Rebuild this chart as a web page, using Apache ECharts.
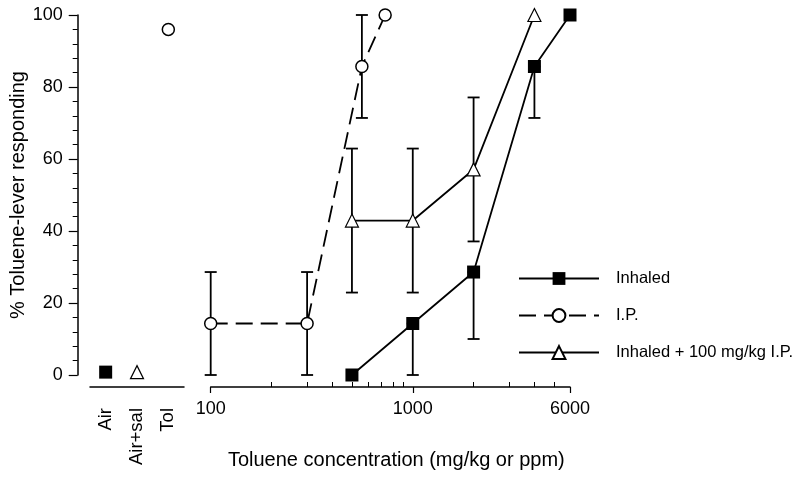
<!DOCTYPE html>
<html>
<head>
<meta charset="utf-8">
<script src="https://cdn.jsdelivr.net/npm/echarts@6/dist/echarts.min.js"></script>
<style>
  html, body { margin: 0; padding: 0; background: #fff; }
  #chart { width: 800px; height: 480px; }
</style>
</head>
<body>
<div id="chart"></div>
<script>
// control conditions (left panel)
var ctrlCats = ['Air', 'Air+sal', 'Tol'];
var ctrlValues = [0.8, 0.8, 96];

// inhaled toluene (ppm)
var inhaledDose = [500, 1000, 2000, 4000, 6000];
var inhaledPct = [0, 14.3, 28.6, 85.7, 100];
var inhaledLow = [null, 0, 10, 71.4, null];
var inhaledHigh = [null, 14.3, 28.6, 85.7, null];

// i.p. toluene (mg/kg)
var ipDose = [100, 300, 560, 730];
var ipPct = [14.3, 14.3, 85.7, 100];
var ipLow = [0, 0, 71.4, null];
var ipHigh = [28.6, 28.6, 100, null];

// inhaled + 100 mg/kg i.p.
var comboDose = [500, 1000, 2000, 4000];
var comboPct = [42.9, 42.9, 57.1, 100];
var comboLow = [22.9, 22.9, 37.1, null];
var comboHigh = [62.9, 62.9, 77.1, null];

var majorTicks = [100, 1000, 6000];
var minorTicks = [200, 300, 400, 500, 600, 700, 800, 900, 2000, 3000, 4000, 5000];

var FONT = 'Liberation Sans, Arial, Helvetica, sans-serif';

function pairs(xs, ys) {
    return xs.map(function (x, i) { return [x, ys[i]]; });
}
function errData(xs, lo, hi) {
    var out = [];
    xs.forEach(function (x, i) {
        if (lo[i] !== null && hi[i] !== null) out.push([x, lo[i], hi[i]]);
    });
    return out;
}
function renderErr(params, api) {
    var lo = api.coord([api.value(0), api.value(1)]);
    var hi = api.coord([api.value(0), api.value(2)]);
    var w = 6;
    var st = { stroke: '#000', lineWidth: 1.8 };
    return {
        type: 'group',
        children: [
            { type: 'line', shape: { x1: lo[0], y1: lo[1], x2: hi[0], y2: hi[1] }, style: st },
            { type: 'line', shape: { x1: lo[0] - w, y1: lo[1], x2: lo[0] + w, y2: lo[1] }, style: st },
            { type: 'line', shape: { x1: hi[0] - w, y1: hi[1], x2: hi[0] + w, y2: hi[1] }, style: st }
        ]
    };
}
function errSeries(data) {
    return {
        type: 'custom', xAxisIndex: 1, yAxisIndex: 1, z: 1,
        renderItem: renderErr, encode: { x: 0, y: [1, 2] }, data: data, silent: true
    };
}

var chart = echarts.init(document.getElementById('chart'));
var option = {
    animation: false,
    textStyle: { fontFamily: FONT, color: '#000' },
    grid: [
        { left: 90, width: 94, top: 15, height: 360 },
        { left: 210.7, right: 230, top: 15, height: 360 }
    ],
    legend: {
        data: ['Inhaled', 'I.P.', 'Inhaled + 100 mg/kg I.P.'],
        orient: 'vertical',
        left: 518, top: 270, padding: 0,
        itemWidth: 80, itemHeight: 16, itemGap: 20,
        textStyle: { fontFamily: FONT, fontSize: 16.5, color: '#000', padding: [0, 0, 0, 12] }
    },
    xAxis: [
        {
            gridIndex: 0, type: 'category', data: ctrlCats, position: 'bottom', offset: 12,
            axisLine: { onZero: false, lineStyle: { color: '#000', width: 1.5 } },
            axisTick: { alignWithLabel: true, length: 8, lineStyle: { color: '#000', width: 1.2 } },
            axisLabel: { rotate: 90, margin: 21, fontSize: 18.5, color: '#000', fontFamily: FONT }
        },
        {
            gridIndex: 1, type: 'log', logBase: 10, min: 100, max: 6000, position: 'bottom', offset: 12,
            axisLine: { onZero: false, lineStyle: { color: '#000', width: 1.5 } },
            axisTick: { customValues: majorTicks, length: 6, lineStyle: { color: '#000', width: 1.2 } },
            axisLabel: {
                customValues: majorTicks, margin: 13, fontSize: 18, color: '#000', fontFamily: FONT,
                formatter: function (v) { return String(Math.round(v)); }
            },
            splitLine: { show: false },
            name: 'Toluene concentration (mg/kg or ppm)',
            nameLocation: 'middle', nameGap: 63,
            nameTextStyle: { fontSize: 20, color: '#000', fontFamily: FONT, padding: [0, 0, 0, 12] }
        },
        {
            gridIndex: 1, type: 'log', logBase: 10, min: 100, max: 6000, position: 'bottom', offset: 12,
            axisLine: { show: false, onZero: false },
            axisTick: { customValues: minorTicks, inside: true, length: 5, lineStyle: { color: '#000', width: 1 } },
            axisLabel: { show: false },
            splitLine: { show: false }
        }
    ],
    yAxis: [
        {
            gridIndex: 0, type: 'value', min: 0, max: 100, interval: 20, offset: 12.3,
            axisLine: { show: true, onZero: false, lineStyle: { color: '#000', width: 1.5 } },
            axisTick: { show: true, length: 9, lineStyle: { color: '#000', width: 1.2 } },
            minorTick: { show: true, splitNumber: 5, length: 5, lineStyle: { color: '#000', width: 1 } },
            splitLine: { show: false },
            axisLabel: { margin: 15, fontSize: 18, color: '#000', fontFamily: FONT },
            name: '% Toluene-lever responding',
            nameLocation: 'middle', nameGap: 47,
            nameTextStyle: { fontSize: 20, color: '#000', fontFamily: FONT }
        },
        { gridIndex: 1, type: 'value', min: 0, max: 100, show: false, splitLine: { show: false } }
    ],
    series: [
        errSeries(errData(inhaledDose, inhaledLow, inhaledHigh)),
        errSeries(errData(ipDose, ipLow, ipHigh)),
        errSeries(errData(comboDose, comboLow, comboHigh)),
        {
            name: 'Inhaled', type: 'line', xAxisIndex: 1, yAxisIndex: 1, z: 3,
            data: pairs(inhaledDose, inhaledPct),
            symbol: 'rect', symbolSize: 13,
            itemStyle: { color: '#000' },
            lineStyle: { color: '#000', width: 1.8 }
        },
        {
            name: 'I.P.', type: 'line', xAxisIndex: 1, yAxisIndex: 1, z: 3,
            data: pairs(ipDose, ipPct),
            symbol: 'circle', symbolSize: 12,
            itemStyle: { color: '#fff', borderColor: '#000', borderWidth: 1.5 },
            lineStyle: { color: '#000', width: 1.8, type: [17, 8] }
        },
        {
            name: 'Inhaled + 100 mg/kg I.P.', type: 'line', xAxisIndex: 1, yAxisIndex: 1, z: 3,
            data: pairs(comboDose, comboPct),
            symbol: 'triangle', symbolSize: 13,
            itemStyle: { color: '#fff', borderColor: '#000', borderWidth: 1.2 },
            lineStyle: { color: '#000', width: 1.8 }
        },
        {
            name: 'ctrl-air', type: 'scatter', xAxisIndex: 0, yAxisIndex: 0,
            data: [[ctrlCats[0], ctrlValues[0]]],
            symbol: 'rect', symbolSize: 13, itemStyle: { color: '#000', opacity: 1 }
        },
        {
            name: 'ctrl-airsal', type: 'scatter', xAxisIndex: 0, yAxisIndex: 0,
            data: [[ctrlCats[1], ctrlValues[1]]],
            symbol: 'triangle', symbolSize: 13,
            itemStyle: { color: '#fff', borderColor: '#000', borderWidth: 1.2, opacity: 1 }
        },
        {
            name: 'ctrl-tol', type: 'scatter', xAxisIndex: 0, yAxisIndex: 0,
            data: [[ctrlCats[2], ctrlValues[2]]],
            symbol: 'circle', symbolSize: 12,
            itemStyle: { color: '#fff', borderColor: '#000', borderWidth: 1.5, opacity: 1 }
        }
    ]
};
chart.setOption(option);
</script>
</body>
</html>
